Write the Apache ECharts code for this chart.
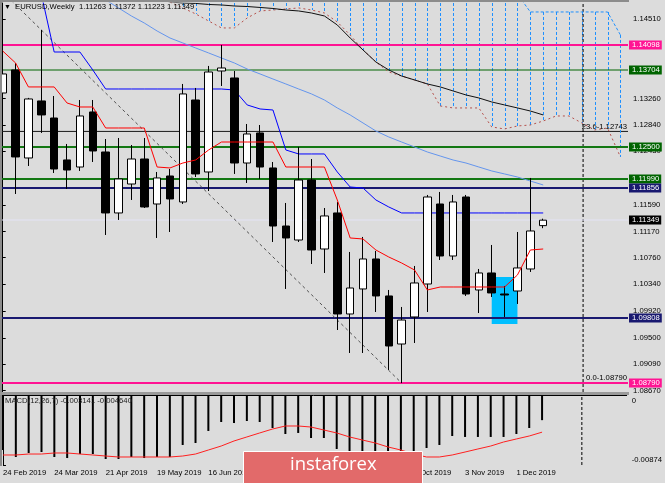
<!DOCTYPE html>
<html><head><meta charset="utf-8">
<script src="https://cdn.jsdelivr.net/npm/echarts@6/dist/echarts.min.js"></script>
<style>html,body{margin:0;padding:0;background:#dcdcdc}#c{width:665px;height:483px}</style>
</head><body><div id="c"></div>
<script>
// ---------- data ----------
const weekIdx = [0,1,2,3,4,5,6,7,8,9,10,11,12,13,14,15,16,17,18,19,20,21,22,23,24,25,26,27,28,29,30,31,32,33,34,35,36,37,38,39,40,41,42];
const openP  = [1.13347,1.13709,1.12326,1.13222,1.12954,1.12295,1.12184,1.13049,1.12420,1.11462,1.11917,1.12310,1.11603,1.12043,1.11635,1.13237,1.12106,1.13693,1.13583,1.12247,1.12719,1.12169,1.11257,1.11037,1.11980,1.10896,1.11462,1.09875,1.10268,1.10739,1.10158,1.09403,1.09828,1.10346,1.11603,1.10786,1.11713,1.10252,1.10519,1.10189,1.10236,1.10582,1.11263];
const closeP = [1.13646,1.12342,1.13253,1.13002,1.12153,1.12137,1.12986,1.12436,1.11462,1.11996,1.12310,1.11556,1.12012,1.11682,1.13332,1.12075,1.13677,1.13740,1.12247,1.12703,1.12184,1.11257,1.11069,1.11980,1.10880,1.11415,1.09875,1.10283,1.10739,1.10158,1.09372,1.09780,1.10362,1.11713,1.10786,1.11635,1.10189,1.10519,1.10205,1.10173,1.10598,1.11179,1.11349];
const lowP   = [1.13284,1.11760,1.12200,1.12719,1.12090,1.11839,1.12122,1.12263,1.11116,1.11352,1.11666,1.11540,1.11069,1.11163,1.11603,1.12027,1.11807,1.13457,1.12075,1.11933,1.11996,1.11006,1.10268,1.11006,1.10660,1.10519,1.09623,1.09262,1.09262,1.09906,1.08995,1.08790,1.09419,1.09906,1.10723,1.10723,1.10158,1.09890,1.10142,1.09828,1.10032,1.10535,1.11223];
const highP  = [1.14196,1.13819,1.13270,1.14337,1.13300,1.12546,1.13237,1.13237,1.12624,1.12640,1.12530,1.12640,1.12106,1.12153,1.13489,1.13426,1.13772,1.14102,1.13693,1.12860,1.12844,1.12263,1.11619,1.12499,1.12310,1.11540,1.11635,1.10849,1.11085,1.10865,1.10252,1.09985,1.10629,1.11745,1.11792,1.11745,1.11745,1.10582,1.10959,1.10315,1.11163,1.12012,1.11372];

const tenkan = [1.14007,1.13819,1.13442,1.13442,1.13442,1.13190,1.13127,1.13127,1.12797,1.12797,1.12797,1.12797,1.12184,1.12169,1.12247,1.12295,1.12452,1.12577,1.12577,1.12577,1.12577,1.12577,1.12184,1.12184,1.12184,1.12184,1.11666,1.11069,1.11053,1.10880,1.10770,1.10676,1.10566,1.10252,1.10299,1.10299,1.10299,1.10299,1.10299,1.10299,1.10488,1.10880,1.10896];
const kijun  = [1.1520,1.1520,1.1515,1.14903,1.13991,1.13991,1.13991,1.13709,1.13410,1.13410,1.13410,1.13410,1.13410,1.13410,1.13410,1.13410,1.13410,1.13410,1.13394,1.13159,1.13096,1.13080,1.12452,1.12389,1.12389,1.12389,1.12106,1.11870,1.11854,1.11666,1.11556,1.11462,1.11462,1.11462,1.11462,1.11462,1.11462,1.11462,1.11462,1.11462,1.11462,1.11462,1.11462];

const maSlowIdx = [12,13,14,15,16,17,18,19,20,21,22,23,24,25,26,27,28,29,30,31,32,33,34,35,36,37,38,39,40,41,42];
const maSlow = [1.14824,1.14777,1.14761,1.14754,1.14738,1.14730,1.14714,1.14706,1.14691,1.14675,1.14651,1.14636,1.14604,1.14557,1.14416,1.14211,1.14023,1.13834,1.13709,1.13614,1.13552,1.13489,1.13442,1.13379,1.13316,1.13269,1.13206,1.13159,1.13112,1.13064,1.13002];
const maFastIdx = [8,9,10,11,12,13,14,15,16,17,18,19,20,21,22,23,24,25,26,27,28,29,30,31,32,33,34,35,36,37,38,39,40,41,42];
const maFast = [1.14809,1.14683,1.14557,1.14447,1.14321,1.14211,1.14133,1.14054,1.13976,1.13897,1.13819,1.13724,1.13646,1.13567,1.13489,1.13410,1.13332,1.13237,1.13112,1.13002,1.12876,1.12750,1.12656,1.12577,1.12499,1.12420,1.12357,1.12294,1.12247,1.12184,1.12122,1.12075,1.12027,1.11964,1.11902];

const cloudIdx = [13,14,15,16,17,18,19,20,21,22,23,24,25,26,27,28,29,30,31,32,33,34,35,36,37,38,39,40,41,42,43,44,45,46,47,48];
const spanA = [1.1510,1.1510,1.1510,1.1510,1.1510,1.1510,1.1510,1.1510,1.1510,1.1510,1.1510,1.1510,1.1510,1.1510,1.1510,1.1510,1.1510,1.1510,1.1510,1.1510,1.1510,1.1510,1.1510,1.1510,1.1510,1.1510,1.1510,1.1490,1.14620,1.14620,1.14620,1.14620,1.14620,1.14620,1.14620,1.14259];
const spanB = [1.14777,1.14683,1.14589,1.14479,1.14369,1.14369,1.14526,1.14636,1.14651,1.14667,1.14683,1.14651,1.14604,1.14463,1.14259,1.14023,1.13834,1.13677,1.13614,1.13552,1.13489,1.13143,1.13112,1.13112,1.13112,1.12813,1.12782,1.12829,1.12844,1.12907,1.12986,1.12986,1.12876,1.12766,1.12797,1.12342];

const macdMain   = [-0.00687,-0.00774,-0.00724,-0.00712,-0.00774,-0.00787,-0.00737,-0.00737,-0.00799,-0.00799,-0.00774,-0.00787,-0.00774,-0.00774,-0.00624,-0.00599,-0.00449,-0.00337,-0.00350,-0.00325,-0.00337,-0.00412,-0.00487,-0.00474,-0.00537,-0.00537,-0.00674,-0.00712,-0.00749,-0.00774,-0.00737,-0.00774,-0.00712,-0.00662,-0.00624,-0.00512,-0.00524,-0.00524,-0.00524,-0.00524,-0.00487,-0.00412,-0.00314];
const macdSignal = [-0.00749,-0.00749,-0.00737,-0.00737,-0.00724,-0.00724,-0.00737,-0.00749,-0.00762,-0.00774,-0.00774,-0.00774,-0.00774,-0.00774,-0.00762,-0.00737,-0.00687,-0.00637,-0.00574,-0.00524,-0.00474,-0.00425,-0.00387,-0.00387,-0.00400,-0.00437,-0.00474,-0.00524,-0.00562,-0.00599,-0.00649,-0.00687,-0.00737,-0.00774,-0.00774,-0.00749,-0.00712,-0.00674,-0.00637,-0.00587,-0.00549,-0.00512,-0.00464];

const levelValues = [1.14098,1.13704,1.12500,1.11990,1.11856,1.11349,1.09808,1.08790];
const fiboValues = [1.12743,1.08790];
const fiboNames  = ['23.6','0.0'];
const trendIdx = [-1,31];
const trendVal = [1.15130,1.08790];
const boxIdx = [38,40];
const boxVal = [1.10455,1.09718];
const shiftIdx = 45.1;

const priceTicks = [1.14510,1.13260,1.12840,1.12430,1.11590,1.11170,1.10760,1.10340,1.09920,1.09500,1.09090,1.08670];
const macdTicks = [0,-0.00874];
const dateTickIdx = [0,4,8,12,16,20,24,28,32,36,40];
const dateTickText = ['24 Feb 2019','24 Mar 2019','21 Apr 2019','19 May 2019','16 Jun 2019','14 Jul 2019','11 Aug 2019','8 Sep 2019','6 Oct 2019','3 Nov 2019','1 Dec 2019'];
const titleText = 'EURUSD,Weekly  1.11263 1.11372 1.11223 1.11349';
const macdText = 'MACD(12,26,7) -0.003141 -0.004640';

// ---------- layout / style ----------
const X_MIN = -0.21, X_MAX = 48.59;
const P_MIN = 1.08649, P_MAX = 1.14761;
const FONT = 'Liberation Sans';
const FS = 7.7;
const levelStyle = [
  {c:'#ff1493', w:2, bg:'#ff1493'},
  {c:'#006400', w:1, bg:'#006400'},
  {c:'#137813', w:2, bg:'#006400'},
  {c:'#137813', w:2, bg:'#006400'},
  {c:'#191970', w:2, bg:'#191970'},
  {c:'#e4e4f6', w:1, bg:'#000000'},
  {c:'#191970', w:2, bg:'#191970'},
  {c:'#ff1493', w:2, bg:'#ff1493'}
];

const pairs = (xs, ys) => xs.map((x, i) => [x, ys[i]]);
const candleRows = weekIdx.map((x, i) => [x, openP[i], closeP[i], lowP[i], highP[i]]);

const option = {
  animation: false,
  backgroundColor: '#dcdcdc',
  grid: [
    {left: 0, right: 37, top: 3, height: 389},
    {left: 0, right: 37, top: 395, height: 70}
  ],
  xAxis: [
    {type: 'value', gridIndex: 0, min: X_MIN, max: X_MAX, show: false, splitLine: {show: false}},
    {type: 'value', gridIndex: 1, min: X_MIN, max: X_MAX, splitLine: {show: false},
      axisLine: {show: true, lineStyle: {color: '#000', width: 1}},
      axisTick: {show: true, customValues: dateTickIdx, length: 4, lineStyle: {color: '#000'}},
      axisLabel: {show: true, customValues: dateTickIdx, align: 'left', margin: 4,
        fontSize: FS, fontFamily: FONT, color: '#000',
        formatter: v => dateTickText[dateTickIdx.indexOf(Math.round(v))] || ''}}
  ],
  yAxis: [
    {type: 'value', gridIndex: 0, position: 'right', min: P_MIN, max: P_MAX,
      splitLine: {show: false},
      axisLine: {show: true, lineStyle: {color: '#000', width: 1}},
      axisTick: {show: true, customValues: priceTicks, length: 3, lineStyle: {color: '#000'}},
      axisLabel: {show: true, customValues: priceTicks, margin: 5, fontSize: FS, fontFamily: FONT, color: '#000',
        formatter: v => v.toFixed(5)}},
    {type: 'value', gridIndex: 1, position: 'right', min: -0.00874, max: 0,
      splitLine: {show: false},
      axisLine: {show: true, lineStyle: {color: '#000', width: 1}},
      axisTick: {show: true, customValues: macdTicks, length: 3, lineStyle: {color: '#000'}},
      axisLabel: {show: true, customValues: macdTicks, margin: 5, fontSize: FS, fontFamily: FONT, color: '#000', lineHeight: 11,
        formatter: v => (v === 0 ? '\n0' : v.toFixed(5) + '\n')}}
  ],
  series: [
    // highlight box
    {type: 'custom', xAxisIndex: 0, yAxisIndex: 0, z: 1, silent: true,
      data: [[boxIdx[0], boxVal[0], boxIdx[1], boxVal[1]]],
      renderItem: (params, api) => {
        const a = api.coord([api.value(0), api.value(1)]);
        const b = api.coord([api.value(2), api.value(3)]);
        return {type: 'rect', shape: {x: a[0], y: a[1], width: b[0] - a[0], height: b[1] - a[1]},
          style: {fill: '#00bfff'}};
      }},
    // fibo levels (line + caption)
    {type: 'custom', xAxisIndex: 0, yAxisIndex: 0, z: 2, silent: true,
      data: fiboValues.map((v, i) => [X_MIN, v, i]),
      renderItem: (params, api) => {
        const cs = params.coordSys;
        const p = api.coord([api.value(0), api.value(1)]);
        const i = api.value(2);
        return {type: 'group', children: [
          {type: 'line', shape: {x1: cs.x, y1: p[1], x2: cs.x + cs.width, y2: p[1]},
            style: {stroke: '#1a1a1a', lineWidth: 1, opacity: i === 0 ? 1 : 0}},
          {type: 'text', x: cs.x + cs.width - 1, y: p[1] - 1,
            style: {text: fiboNames[i] + '-' + fiboValues[i].toFixed(5), fill: '#000', fontSize: FS, fontFamily: FONT,
              align: 'right', verticalAlign: 'bottom'}}
        ]};
      }},
    // horizontal levels with price boxes
    {type: 'custom', xAxisIndex: 0, yAxisIndex: 0, z: 3, silent: true,
      data: levelValues.map((v, i) => [X_MIN, v, i]),
      renderItem: (params, api) => {
        const cs = params.coordSys;
        const p = api.coord([api.value(0), api.value(1)]);
        const st = levelStyle[api.value(2)];
        return {type: 'group', children: [
          {type: 'line', shape: {x1: cs.x, y1: Math.round(p[1]), x2: cs.x + cs.width, y2: Math.round(p[1])},
            style: {stroke: st.c, lineWidth: st.w}},
          {type: 'text', x: cs.x + cs.width + 1, y: Math.round(p[1]), z2: 50,
            style: {text: levelValues[api.value(2)].toFixed(5), fill: '#fff', fontSize: FS, fontFamily: FONT,
              align: 'left', verticalAlign: 'middle', backgroundColor: st.bg, padding: [1, 2, 0, 3]}}
        ]};
      }},
    // shift separator
    {type: 'line', xAxisIndex: 0, yAxisIndex: 0, z: 2, symbol: 'none', data: [[shiftIdx, P_MIN], [shiftIdx, P_MAX]],
      lineStyle: {color: '#000', width: 1, type: [3, 2]}},
    // ichimoku cloud hatching
    {type: 'custom', xAxisIndex: 0, yAxisIndex: 0, z: 2, silent: true,
      data: cloudIdx.map((x, i) => [x, spanA[i], spanB[i]]),
      renderItem: (params, api) => {
        const cs = params.coordSys;
        const a = api.coord([api.value(0), api.value(1)]);
        const b = api.coord([api.value(0), api.value(2)]);
        const y1 = Math.max(cs.y, Math.min(a[1], b[1]));
        const y2 = Math.min(cs.y + cs.height, Math.max(a[1], b[1]));
        if (a[0] > cs.x + cs.width || y2 <= y1) return null;
        return {type: 'line', shape: {x1: Math.round(a[0]) + 0.5, y1: y1, x2: Math.round(a[0]) + 0.5, y2: y2},
          style: {stroke: '#1e90ff', lineWidth: 1, lineDash: [3, 2]}};
      }},
    {type: 'line', xAxisIndex: 0, yAxisIndex: 0, z: 3, symbol: 'none', data: pairs(cloudIdx, spanA),
      lineStyle: {color: '#1e90ff', width: 1, type: [3, 2]}},
    {type: 'line', xAxisIndex: 0, yAxisIndex: 0, z: 3, symbol: 'none', data: pairs(cloudIdx, spanB),
      lineStyle: {color: '#b5504b', width: 1, type: [2, 3]}},
    // moving averages
    {type: 'line', xAxisIndex: 0, yAxisIndex: 0, z: 3, symbol: 'none', data: pairs(maSlowIdx, maSlow),
      lineStyle: {color: '#101010', width: 1}},
    {type: 'line', xAxisIndex: 0, yAxisIndex: 0, z: 3, symbol: 'none', data: pairs(maFastIdx, maFast),
      lineStyle: {color: '#6495ed', width: 1}},
    // trend line
    {type: 'line', xAxisIndex: 0, yAxisIndex: 0, z: 3, symbol: 'none', data: pairs(trendIdx, trendVal),
      lineStyle: {color: '#505050', width: 1, type: [3, 3]}},
    // kijun / tenkan
    {type: 'line', xAxisIndex: 0, yAxisIndex: 0, z: 4, symbol: 'none', data: pairs(weekIdx, kijun),
      lineStyle: {color: '#0000ff', width: 1}},
    {type: 'line', xAxisIndex: 0, yAxisIndex: 0, z: 6, symbol: 'none', data: pairs(weekIdx, tenkan),
      lineStyle: {color: '#ff0000', width: 1}},
    // candles
    {type: 'candlestick', xAxisIndex: 0, yAxisIndex: 0, z: 5, barWidth: 8,
      data: candleRows, encode: {x: 0, y: [1, 2, 3, 4]},
      itemStyle: {color: '#ffffff', color0: '#000000', borderColor: '#000000', borderColor0: '#000000', borderWidth: 1}},
    // MACD
    {type: 'bar', xAxisIndex: 1, yAxisIndex: 1, barWidth: 2, data: pairs(weekIdx, macdMain),
      itemStyle: {color: '#000'}},
    {type: 'line', xAxisIndex: 1, yAxisIndex: 1, z: 3, symbol: 'none', data: [[shiftIdx, -0.00874], [shiftIdx, 0]],
      lineStyle: {color: '#000', width: 1, type: [3, 2]}},
    {type: 'line', xAxisIndex: 1, yAxisIndex: 1, symbol: 'none', data: pairs(weekIdx, macdSignal),
      lineStyle: {color: '#ff2020', width: 1}}
  ],
  graphic: [
    {type: 'rect', left: 0, top: 0, shape: {width: 2, height: 466}, style: {fill: '#8c8c8c'}, z: 100},
    {type: 'rect', left: 0, top: 0, shape: {width: 629, height: 2}, style: {fill: '#8c8c8c'}, z: 100},
    {type: 'rect', left: 0, top: 392, shape: {width: 629, height: 3}, style: {fill: '#9a9a9a'}, z: 100},
    {type: 'text', left: 4, top: 4, style: {text: '\u25BC', fontSize: 7, fill: '#000', fontFamily: FONT}, z: 100},
    {type: 'text', left: 15, top: 3, style: {text: titleText, fontSize: FS, fill: '#000', fontFamily: FONT}, z: 100},
    {type: 'text', left: 5, top: 397, style: {text: macdText, fontSize: FS, fill: '#202020', fontFamily: FONT}, z: 100},
    {type: 'rect', left: 243, top: 451, shape: {width: 179, height: 32}, style: {fill: '#e26a6a', stroke: '#ffffff', lineWidth: 1}, z: 100},
    {type: 'text', left: 290, top: 455, style: {text: 'instaforex', fontSize: 18.5, fill: '#ffffff', fontFamily: 'Open Sans'}, z: 101}
  ]
};
const chart = echarts.init(document.getElementById('c'));
chart.setOption(option);
</script></body></html>
